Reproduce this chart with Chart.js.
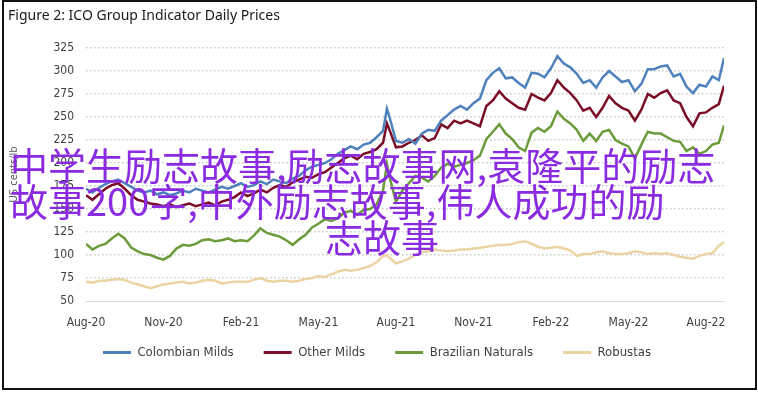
<!DOCTYPE html>
<html>
<head>
<meta charset="utf-8">
<script src="https://cdn.jsdelivr.net/npm/chart.js@4.4.1/dist/chart.umd.min.js"></script>
<style>
  html, body { margin: 0; padding: 0; background: #fff; }
  #wrap { position: relative; width: 758px; height: 393px; overflow: hidden; }
  #frame { position: absolute; left: 2px; top: 0px; width: 751px; height: 386px; border: 2px solid #111; }
  #title { position: absolute; left: 8px; top: 5px; font: 14px "Noto Sans", sans-serif; color: #1a1a1a; }
  #myChart { position: absolute; left: 0; top: 0; }
  #stamp { position: absolute; left: 10px; top: 146px; font: 38px "Noto Sans CJK SC", sans-serif; color: #8a2be2; line-height: 36px; white-space: nowrap; }
  #stamp div.l3 { padding-left: 315px; }
</style>
</head>
<body>
<div id="wrap">
  <canvas id="myChart" width="758" height="393"></canvas>
  <div id="frame"></div>
  <div id="title">Figure 2: ICO Group Indicator Daily Prices</div>
  <div id="stamp">
    <div>中学生励志故事,励志故事网,袁隆平的励志</div>
    <div>故事200字,中外励志故事,伟人成功的励</div>
    <div class="l3">志故事</div>
  </div>
</div>
<script>
// months counted from 1 Aug 2020
var months = [0, 0.25, 0.5, 0.75, 1, 1.25, 1.5, 1.75, 2, 2.25, 2.5, 2.75, 3, 3.25, 3.5, 3.75,
  4, 4.25, 4.5, 4.75, 5, 5.25, 5.5, 5.75, 6, 6.25, 6.5, 6.75, 7, 7.25, 7.5, 7.75,
  8, 8.25, 8.5, 8.75, 9, 9.25, 9.5, 9.75, 10, 10.25, 10.5, 10.75, 11, 11.25, 11.5, 11.65, 11.75,
  12, 12.25, 12.5, 12.75, 13, 13.25, 13.5, 13.75, 14, 14.25, 14.5, 14.75, 15, 15.25, 15.5, 15.75,
  16, 16.25, 16.5, 16.75, 17, 17.25, 17.5, 17.75, 18, 18.25, 18.5, 18.75, 19, 19.25, 19.5, 19.75,
  20, 20.25, 20.5, 20.75, 21, 21.25, 21.5, 21.75, 22, 22.25, 22.5, 22.75, 23, 23.25, 23.5, 23.75,
  24, 24.25, 24.5, 24.7];

var colombianMilds = [172, 168, 173, 177, 180, 182, 178, 174, 170, 168, 170, 166, 168, 165, 167, 170,
  168, 172, 170, 168, 171, 174, 172, 175, 178, 174, 176, 180, 177, 182, 180, 178,
  183, 186, 192, 196, 198, 200, 204, 210, 214, 218, 215, 220, 222, 228, 235, 259, 250,
  224, 222, 226, 221, 232, 236, 235, 246, 252, 258, 262, 258, 265, 270, 290, 298,
  303, 292, 293, 287, 282, 298, 297, 293, 303, 316, 308, 304, 297, 287, 290, 282,
  293, 300, 294, 288, 290, 278, 286, 302, 302, 305, 306, 294, 297, 283, 276, 285,
  283, 294, 290, 314];

var otherMilds = [165, 160, 166, 172, 176, 178, 172, 165, 160, 158, 156, 155, 153, 155, 152, 154,
  156, 153, 155, 157, 154, 158, 160, 163, 168, 164, 167, 171, 168, 173, 176, 174,
  179, 182, 185, 184, 188, 190, 195, 200, 205, 208, 204, 210, 212, 215, 222, 243, 236,
  217, 218, 222, 225, 230, 224, 227, 242, 238, 246, 243, 246, 243, 240, 262, 268,
  278, 270, 265, 260, 258, 275, 271, 268, 276, 290, 282, 276, 268, 257, 260, 250,
  260, 273, 265, 260, 257, 246, 258, 275, 271, 276, 279, 268, 265, 250, 240, 254,
  255, 260, 264, 284];

var brazilianNaturals = [112, 106, 110, 112, 118, 123, 118, 108, 104, 101, 100, 97, 95, 99, 107, 111,
  110, 112, 116, 117, 115, 116, 118, 115, 116, 115, 121, 129, 124, 122, 120, 116,
  111, 117, 122, 130, 134, 139, 137, 140, 146, 148, 144, 149, 150, 155, 170, 199, 185,
  158, 170, 178, 186, 184, 180, 186, 195, 199, 196, 198, 200, 203, 208, 226, 234,
  242, 232, 226, 217, 213, 233, 238, 234, 240, 256, 248, 243, 236, 224, 232, 224,
  234, 236, 225, 221, 218, 205, 220, 234, 232, 232, 228, 224, 223, 213, 217, 210,
  213, 220, 222, 241];

var robustas = [71, 70, 72, 72, 73, 74, 73, 70, 68, 66, 64, 66, 68, 69, 70, 71,
  69, 70, 72, 73, 72, 69, 70, 71, 71, 71, 73, 75, 72, 71, 72, 72,
  71, 72, 74, 75, 77, 76, 79, 82, 84, 83, 84, 86, 88, 92, 99, 100, 97,
  91, 93, 96, 100, 103, 104, 106, 105, 104, 105, 106, 106, 107, 108, 109, 110,
  111, 111, 112, 114, 115, 112, 109, 107, 108, 109, 107, 105, 99, 101, 101, 103,
  104, 102, 101, 101, 102, 104, 103, 101, 102, 101, 102, 100, 98, 97, 96, 99,
  101, 102, 110, 114];

var seriesNames = ["Colombian Milds", "Other Milds", "Brazilian Naturals", "Robustas"];
var seriesColors = ["#4f81bd", "#7b0d27", "#6b9b3b", "#ebd3a2"];
var tickMonths = [0, 3, 6, 9, 12, 15, 18, 21, 24];
var tickLabels = ["Aug-20", "Nov-20", "Feb-21", "May-21", "Aug-21", "Nov-21", "Feb-22", "May-22", "Aug-22"];

var allSeries = [colombianMilds, otherMilds, brazilianNaturals, robustas];
var narrow = '"Liberation Sans Narrow", "DejaVu Sans Condensed", sans-serif';

// pull the legend up a little, closer to the axis labels
var legendNudge = {
  id: 'legendNudge',
  afterLayout: function (chart) {
    chart.legend.top -= 15;
    chart.legend.bottom -= 15;
  }
};

var ctx = document.getElementById("myChart").getContext('2d');
var myChart = new Chart(ctx, {
  type: 'line',
  data: {
    datasets: allSeries.map(function (vals, i) {
      return {
        label: seriesNames[i],
        data: months.map(function (m, j) { return { x: m, y: vals[j] }; }),
        borderColor: seriesColors[i],
        backgroundColor: seriesColors[i],
        borderWidth: 2.5,
        pointRadius: 0,
        pointHoverRadius: 0,
        tension: 0
      };
    })
  },
  plugins: [legendNudge],
  options: {
    responsive: false,
    animation: false,
    elements: { point: { radius: 0, hoverRadius: 0 } },
    layout: { padding: { left: 30, right: 34, top: 48, bottom: 9 } },
    plugins: {
      legend: {
        position: 'bottom',
        labels: {
          boxWidth: 28,
          boxHeight: 3,
          padding: 30,
          color: '#404040',
          font: { family: narrow, size: 13 },
          generateLabels: function (chart) {
            var items = Chart.defaults.plugins.legend.labels.generateLabels(chart);
            items.forEach(function (it) { it.lineWidth = 0; });
            return items;
          }
        }
      },
      tooltip: { enabled: false }
    },
    scales: {
      x: {
        type: 'linear',
        min: 0,
        max: 24.7,
        afterBuildTicks: function (scale) {
          scale.ticks = tickMonths.map(function (v) { return { value: v }; });
        },
        afterFit: function (scale) { scale.height = 30; },
        ticks: {
          padding: 15,
          maxRotation: 0,
          autoSkip: false,
          color: '#404040',
          font: { family: narrow, size: 12 },
          callback: function (v) {
            var k = tickMonths.indexOf(v);
            return k >= 0 ? tickLabels[k] : '';
          }
        },
        grid: { display: false, drawTicks: false },
        border: { display: true, color: '#d9d9d9', width: 1 }
      },
      y: {
        min: 50,
        max: 325,
        afterFit: function (scale) { scale.width = 56; },
        ticks: {
          stepSize: 25,
          padding: 12,
          color: '#404040',
          font: { family: narrow, size: 12 }
        },
        title: {
          display: true,
          text: 'US cents/lb',
          color: '#595959',
          font: { family: narrow, size: 11 },
          padding: { top: -22.6, bottom: 0 }
        },
        grid: {
          drawTicks: false,
          lineWidth: function (c) { return c.tick && c.tick.value === 50 ? 1 : 1.5; },
          color: function (c) { return c.tick && c.tick.value === 50 ? '#d9d9d9' : '#c8c8c8'; }
        },
        border: {
          display: false,
          dash: function (c) { return c.tick && c.tick.value === 50 ? [] : [1.5, 2.5]; }
        }
      }
    }
  }
});
</script>
</body>
</html>
